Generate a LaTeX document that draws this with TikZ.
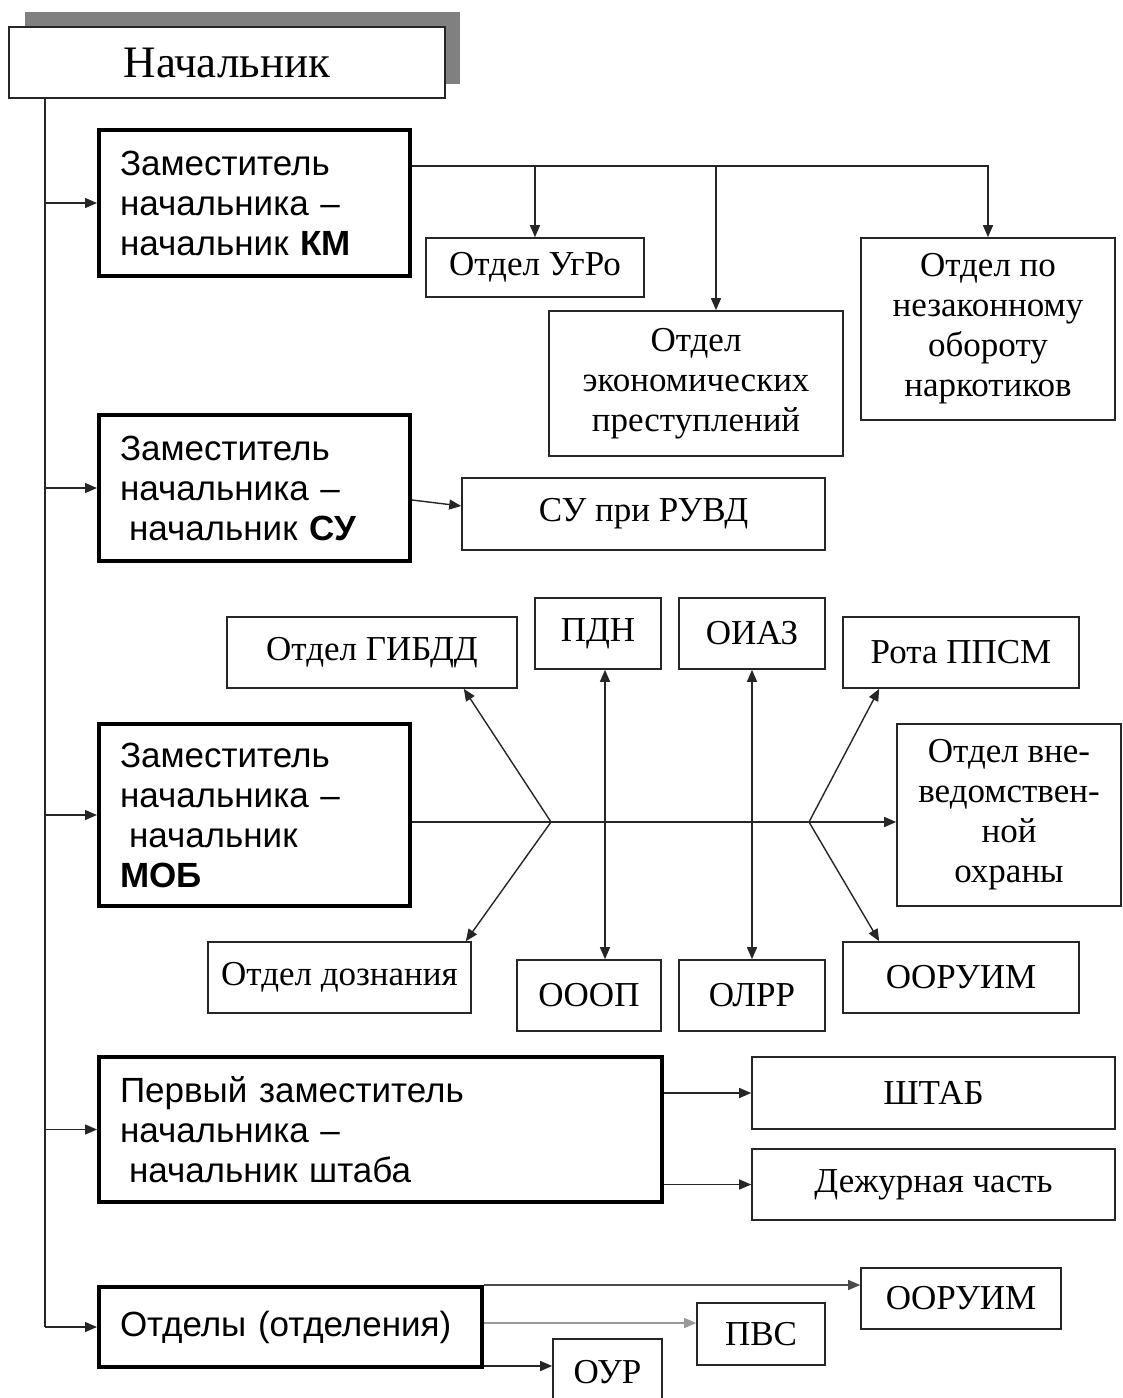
\documentclass[tikz,border=0pt]{standalone}
\usepackage{fontspec}
\setmainfont{Liberation Serif}
\setsansfont{Liberation Sans}
\usetikzlibrary{arrows.meta}
\begin{document}
\begin{tikzpicture}[x=1pt,y=-1pt,
  arr/.style={-{Triangle[length=12pt,width=10pt]}, line width=1.4pt, draw=black!85},
  dbl/.style={{Triangle[length=12pt,width=10pt]}-{Triangle[length=12pt,width=10pt]}, line width=1.4pt, draw=black!85},
  ln/.style={line width=1.4pt, draw=black!85},
  dept/.style={draw=black!85, line width=1.6pt, inner sep=0pt, align=center, font=\fontsize{35}{40}\selectfont},
  dep/.style={draw=black, line width=4pt, inner xsep=21pt, inner ysep=0pt, align=left, font=\sffamily\fontsize{35}{40}\selectfont},
]
\useasboundingbox (0,0) rectangle (1123,1398);
\fill[white] (0,0) rectangle (1123,1398);
% head
\fill[gray] (25,12) rectangle (460,84);
\node[dept, fill=white, minimum width=436pt, minimum height=71pt, font=\fontsize{45}{50}\selectfont] (nach) at (227,62.5) {Начальник};
% deputies
\node[dep, minimum width=311pt, text width=269pt, minimum height=146pt] (km) at (254.5,203) {Заместитель\\начальника –\\начальник \textbf{КМ}};
\node[dep, minimum width=311pt, text width=269pt, minimum height=146pt] (su) at (254.5,488) {Заместитель\\начальника –\\\hspace*{9pt}начальник \textbf{СУ}};
\node[dep, minimum width=311pt, text width=269pt, minimum height=182pt] (mob) at (254.5,815) {Заместитель\\начальника –\\\hspace*{9pt}начальник\\\textbf{МОБ}};
\node[dep, minimum width=563pt, text width=521pt, minimum height=145pt] (shtab1) at (380.5,1129.5) {Первый заместитель\\начальника –\\\hspace*{9pt}начальник штаба};
\node[dep, minimum width=383pt, text width=341pt, minimum height=80pt] (otd) at (290.5,1327) {Отделы (отделения)};
% departments
\node[dept, minimum width=218pt, minimum height=59pt] (ugro) at (535,267.5) {Отдел УгРо};
\node[dept, minimum width=294pt, minimum height=145pt] (econ) at (696,383.5) {Отдел\\экономических\\преступлений};
\node[dept, minimum width=254pt, minimum height=182pt] (nark) at (988,329) {Отдел по\\незаконному\\обороту\\наркотиков};
\node[dept, minimum width=363pt, minimum height=72pt] (suruvd) at (643.5,514) {СУ при РУВД};
\node[dept, minimum width=290pt, minimum height=71pt] (gibdd) at (372,652.5) {Отдел ГИБДД};
\node[dept, minimum width=126pt, minimum height=71pt] (pdn) at (598,633.5) {ПДН};
\node[dept, minimum width=146pt, minimum height=71pt] (oiaz) at (752,633.5) {ОИАЗ};
\node[dept, minimum width=236pt, minimum height=71pt] (rota) at (961,652.5) {Рота ППСМ};
\node[dept, minimum width=224pt, minimum height=182pt] (vne) at (1009,815) {Отдел вне-\\ведомствен-\\ной\\охраны};
\node[dept, minimum width=263pt, minimum height=71pt] (dozn) at (339.5,977.5) {Отдел дознания};
\node[dept, minimum width=144pt, minimum height=71pt] (ooop) at (589,995.5) {ОООП};
\node[dept, minimum width=146pt, minimum height=71pt] (olrr) at (752,995.5) {ОЛРР};
\node[dept, minimum width=236pt, minimum height=71pt] (ooruim) at (961,977.5) {ООРУИМ};
\node[dept, minimum width=363pt, minimum height=72pt] (shtab) at (933.5,1093) {ШТАБ};
\node[dept, minimum width=363pt, minimum height=71pt] (dezh) at (933.5,1184.5) {Дежурная часть};
\node[dept, minimum width=200pt, minimum height=61pt] (ooruim2) at (961,1298.5) {ООРУИМ};
\node[dept, minimum width=128pt, minimum height=62pt] (pvs) at (761,1334) {ПВС};
\node[dept, minimum width=109pt, minimum height=66pt] (our) at (607.5,1372) {ОУР};
% trunk
\coordinate (tx) at (45,0);
\draw[ln] (tx |- nach.south) -- (tx |- otd.west);
\foreach \n in {km,su,mob,shtab1,otd} \draw[arr] (tx |- \n.west) -- (\n.west);
% KM
\coordinate (k0) at ([yshift=37pt]km.east);
\coordinate (e1) at ([xshift=20pt]econ.north);
\draw[arr] (k0) -- (k0 -| nark.north) -- (nark.north);
\draw[arr] (k0 -| ugro.north) -- (ugro.north);
\draw[arr] (k0 -| e1) -- (e1);
% SU
\draw[arr] ([yshift=-12pt]su.east) -- ([yshift=8pt]suruvd.west);
% MOB
\coordinate (m0) at ([yshift=-7pt]mob.east);
\coordinate (bl) at (551,822);
\coordinate (br) at (809,822);
\draw[arr] (m0) -- (m0 -| vne.west);
\draw[arr] (bl) -- ([xshift=-54pt]gibdd.south east);
\draw[arr] (bl) -- ([xshift=-6pt]dozn.north east);
\draw[arr] (br) -- ([xshift=37pt]rota.south west);
\draw[arr] (br) -- ([xshift=37pt]ooruim.north west);
\coordinate (v1) at (605,0);
\draw[dbl] (v1 |- pdn.south) -- (v1 |- ooop.north);
\draw[dbl] (oiaz.south) -- (olrr.north);
% Shtab
\draw[arr] (shtab1.east |- shtab.west) -- (shtab.west);
\draw[arr] (shtab1.east |- dezh.west) -- (dezh.west);
% Otdely
\draw[arr, draw=black!70] (otd.north east) -- (otd.north east -| ooruim2.west);
\coordinate (p1) at ([yshift=11pt]pvs.west);
\draw[arr, draw=black!40] (otd.east |- p1) -- (p1);
\coordinate (o1) at ([yshift=6pt]our.west);
\draw[arr] (otd.east |- o1) -- (o1);
\end{tikzpicture}
\end{document}
